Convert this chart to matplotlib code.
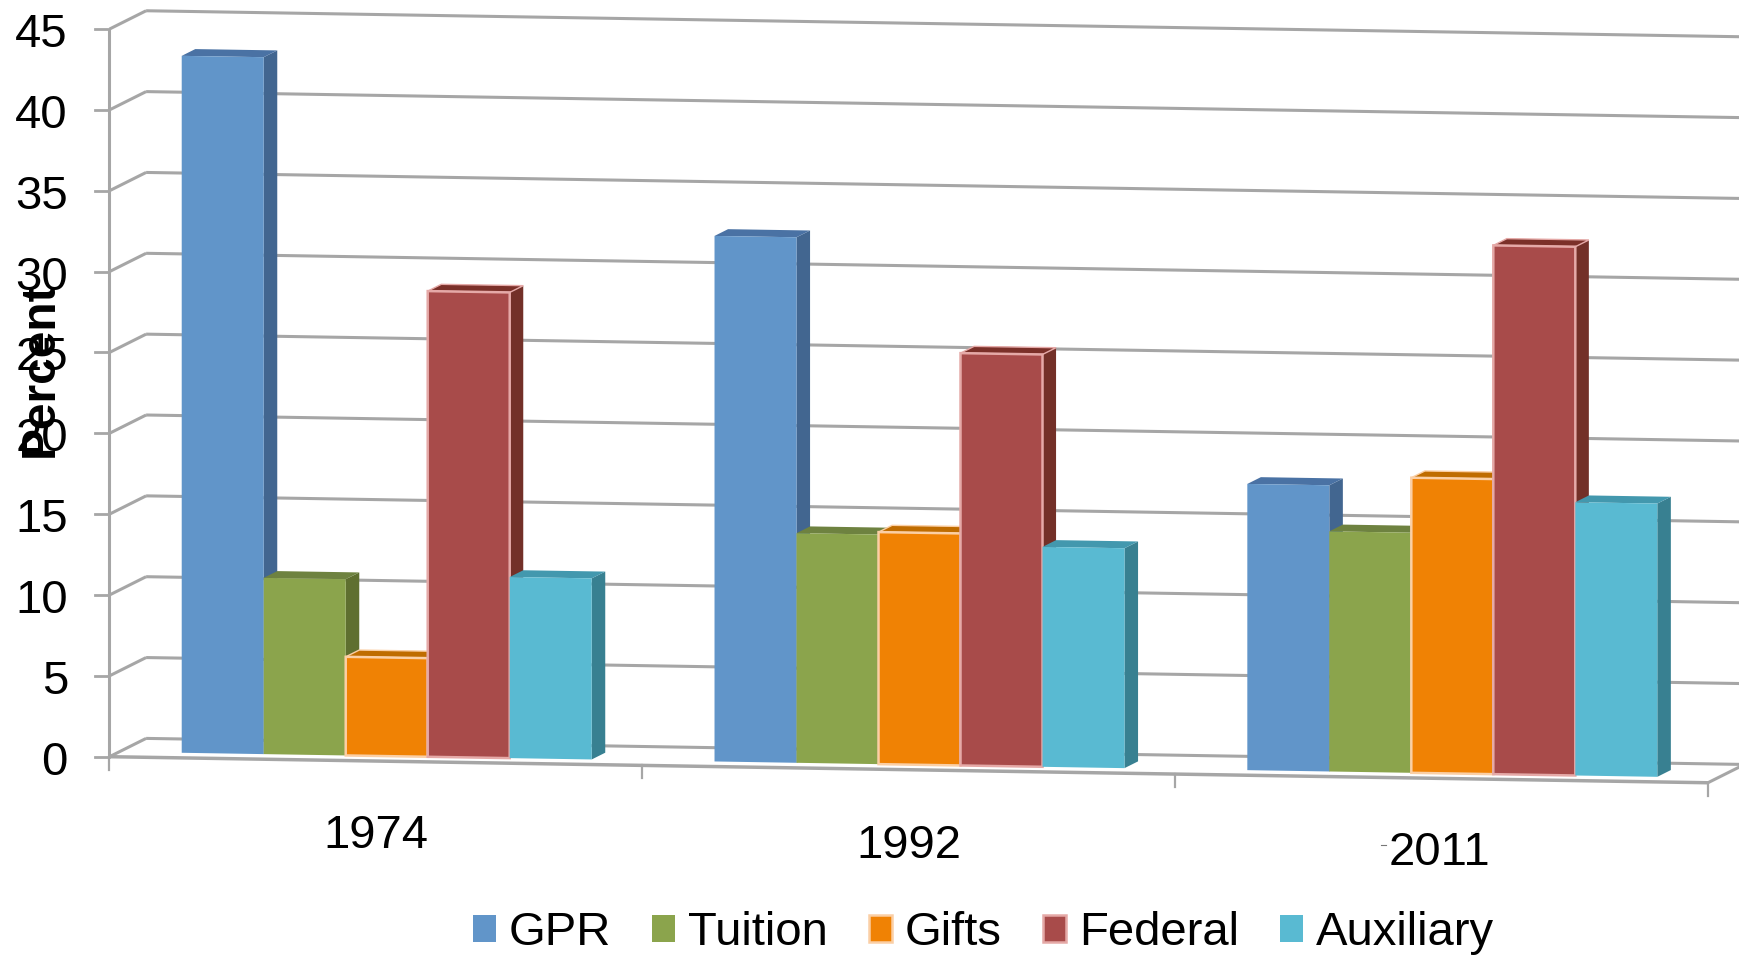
import matplotlib
matplotlib.use("Agg")
import matplotlib.pyplot as plt
from matplotlib.transforms import Affine2D

plt.rcParams["font.family"] = ["Liberation Sans", "DejaVu Sans"]

years = ["1974", "1992", "2011"]
series = ["GPR", "Tuition", "Gifts", "Federal", "Auxiliary"]
gpr = [43.1, 32.5, 17.7]
tuition = [10.9, 14.2, 14.85]
gifts = [6.1, 14.35, 18.25]
federal = [28.8, 25.5, 32.7]
auxiliary = [11.2, 13.6, 16.9]
y_ticks = [0, 5, 10, 15, 20, 25, 30, 35, 40, 45]

front_colors = ["#6195C9", "#8BA44C", "#F08204", "#A84B4A", "#59BAD2"]
side_colors = ["#426690", "#5F6F30", "#BA6A00", "#733028", "#388091"]
top_colors = ["#4A72A4", "#6E8240", "#BF6C00", "#7B3029", "#4398AE"]
edge_colors = [None, None, "#FBCFA5", "#E5A9A7", None]

# fake 3d: x in groups, v in percent, d is depth (0 front wall, 1 back wall)
GROUP_W = 532.8
X0, Y0 = 109.5, 756.7
SLOPE = 0.0163
V_SCALE = 16.17
DEPTH_X, DEPTH_Y = 36.6, 18.3
BAR_D0, BAR_D1 = 0.27, 0.64
BAR_START = 0.1170
BAR_W = 0.1539
GRID = "#A6A6A6"


def proj(x, v, d=0.0):
    return (X0 + GROUP_W * x + DEPTH_X * d,
            Y0 + SLOPE * GROUP_W * x - V_SCALE * v - DEPTH_Y * d)


fig = plt.figure(figsize=(17.4, 9.56), dpi=100)
ax = fig.add_axes([0, 0, 1, 1])
ax.axis("off")


def grid_line(p1, p2, z=1, lw=2.2):
    ax.plot([p1[0], p2[0]], [p1[1], p2[1]], color=GRID, lw=lw, zorder=z,
            solid_capstyle="butt", clip_on=True)


n_groups = len(years)
for v in y_ticks:
    grid_line(proj(0, v, 0), proj(0, v, 1))
    grid_line(proj(0, v, 1), proj(n_groups, v, 1))
    x, y = proj(0, v, 0)
    ax.plot([x - 14, x], [y, y], color=GRID, lw=2.0, zorder=1)
    ax.text(68, y + 6, str(v), ha="right", va="center", fontsize=34,
            color="black", zorder=20)

grid_line(proj(0, 0), proj(0, y_ticks[-1]))
grid_line(proj(0, 0), proj(n_groups, 0), z=1, lw=2.5)
grid_line(proj(n_groups, 0, 0), proj(n_groups, 0, 1))
for i in range(n_groups + 1):
    x, y = proj(i, 0)
    ax.plot([x, x], [y, y + 13], color=GRID, lw=1.6, zorder=1)

# front faces are real bars pushed through the same projection
front_tf = Affine2D.from_values(GROUP_W, SLOPE * GROUP_W, 0, -V_SCALE,
                                X0 + DEPTH_X * BAR_D0, Y0 - DEPTH_Y * BAR_D0)

handles = []
z = 5
for s, values in enumerate([gpr, tuition, gifts, federal, auxiliary]):
    lefts = [g + BAR_START + s * BAR_W for g in range(n_groups)]
    edge = edge_colors[s]
    for left, v in zip(lefts, values):
        right = left + BAR_W
        side = [proj(right, 0, BAR_D0), proj(right, 0, BAR_D1),
                proj(right, v, BAR_D1), proj(right, v, BAR_D0)]
        top = [proj(left, v, BAR_D0), proj(right, v, BAR_D0),
               proj(right, v, BAR_D1), proj(left, v, BAR_D1)]
        ax.fill(*zip(*side), color=side_colors[s], lw=0, zorder=z)
        ax.fill(*zip(*top), facecolor=top_colors[s],
                edgecolor=edge if edge else top_colors[s],
                lw=1.0 if edge else 0, zorder=z)
    bars = ax.bar(lefts, values, BAR_W, align="edge", color=front_colors[s],
                  edgecolor=edge if edge else front_colors[s],
                  linewidth=1.8 if edge else 0, label=series[s], zorder=z + 1,
                  transform=front_tf + ax.transData)
    handles.append(bars)
    z += 2

ax.set_xlim(0, 1740)
ax.set_ylim(956, 0)

ax.text(40, 369, "Percent", rotation=90, ha="center", va="center", fontsize=34.5,
        fontweight="bold", color="black", zorder=21)

year_x = [376, 909, 1439]
year_y = [836, 846, 853]
for name, x, y in zip(years, year_x, year_y):
    ax.text(x, y, name, ha="center", va="center", fontsize=34, color="black")
ax.plot([1381, 1386], [845, 845], color="#777777", lw=0.8)

ax.legend(handles=handles, labels=series, ncol=5, frameon=False, fontsize=34,
          loc="center", bbox_to_anchor=(983.5, 933),
          bbox_transform=ax.transData, handlelength=0.49, handleheight=0.5,
          handletextpad=0.27, columnspacing=0.87, borderpad=0, borderaxespad=0)

fig.savefig("out.png", dpi=100)
